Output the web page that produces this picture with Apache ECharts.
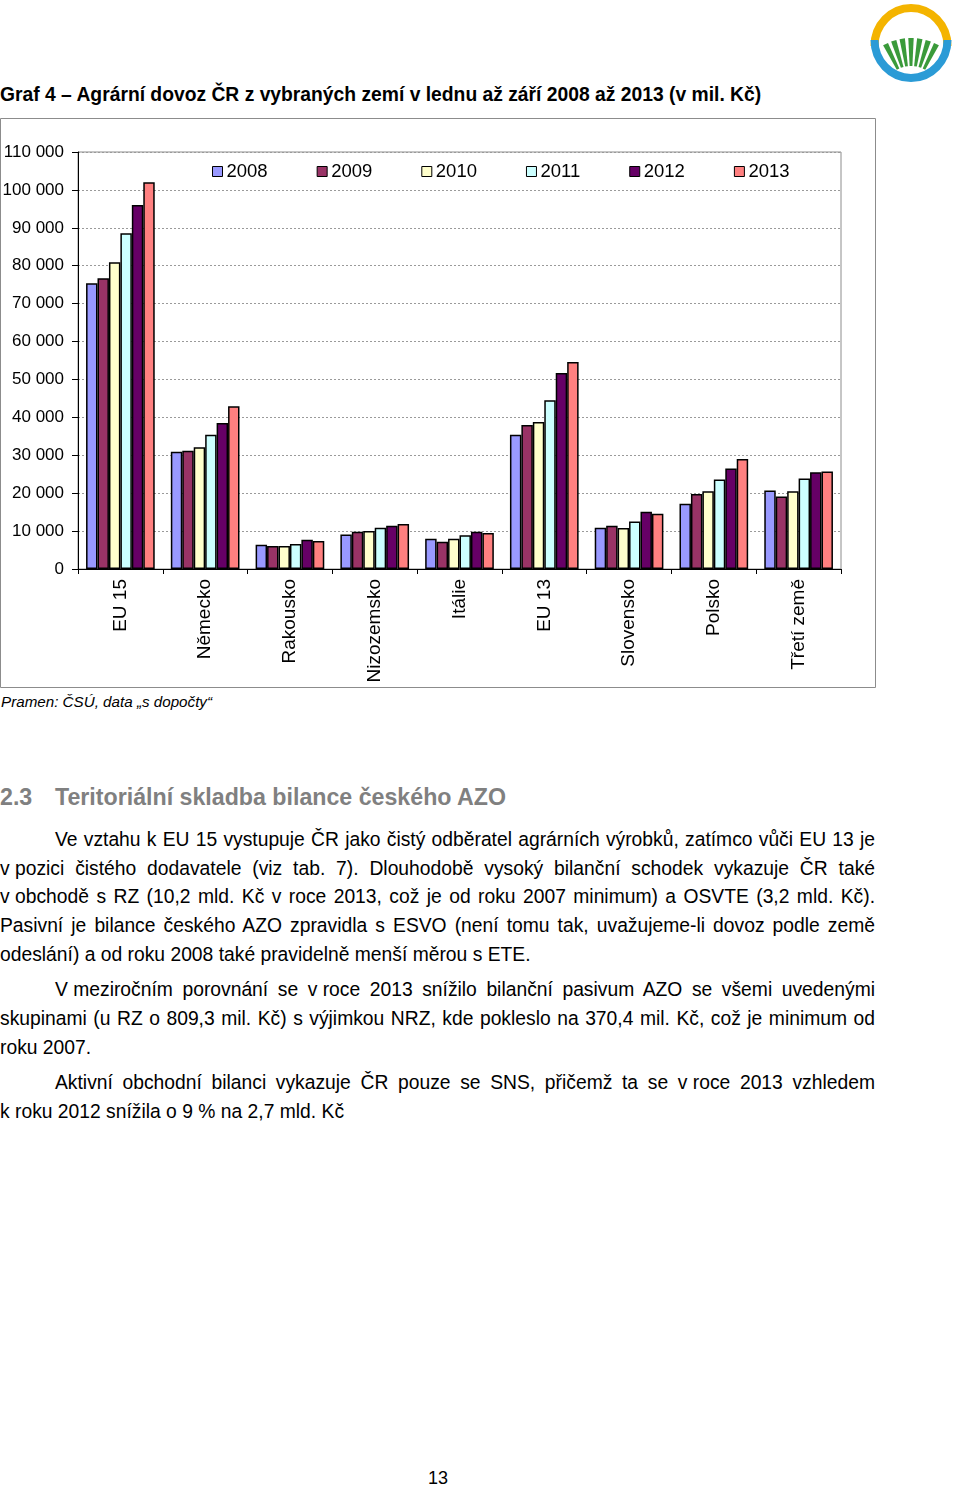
<!DOCTYPE html>
<html>
<head>
<meta charset="utf-8">
<script src="https://cdn.jsdelivr.net/npm/echarts@6/dist/echarts.min.js"></script>
<style>
  html, body { margin: 0; padding: 0; background: #fff; }
  #page { position: relative; width: 960px; height: 1486px; overflow: hidden; font-family: "Liberation Sans", Arial, sans-serif; color: #000; }
  .abs { position: absolute; white-space: nowrap; }
  #title { left: 0; top: 83px; font-size: 19.3px; font-weight: bold; line-height: 24px; }
  #chart { position: absolute; left: 0; top: 118px; width: 876px; height: 571px; }
  #source { left: 1px; top: 693px; font-size: 15.2px; font-style: italic; line-height: 18px; }
  .head { top: 783px; font-size: 23.2px; font-weight: bold; color: #808080; line-height: 28px; }
  .line { position: absolute; font-size: 19.3px; line-height: 24px; white-space: nowrap; }
  .nb { word-spacing: 0; }
  #pagenum { left: 428px; top: 1468px; font-size: 18px; line-height: 20px; }
</style>
</head>
<body>
<div id="page">
  <svg class="abs" style="left:868px;top:0px" width="92" height="92" viewBox="868 0 92 92">
    <path d="M 874.5 46 A 36.5 38 0 0 1 947.5 46" fill="none" stroke="#f4b400" stroke-width="8"/>
    <path d="M 874.5 40 A 36.5 38 0 0 0 947.5 40" fill="none" stroke="#2b9bd6" stroke-width="8"/>
    <g id="stripes" fill="#3a9a3a"></g>
  </svg>
  <div id="title" class="abs">Graf 4 – Agrární dovoz ČR z vybraných zemí v lednu až září 2008 až 2013 (v mil. Kč)</div>
  <div id="chart"></div>
  <div id="source" class="abs">Pramen: ČSÚ, data „s dopočty“</div>
  <div class="abs head" style="left:0">2.3</div>
  <div class="abs head" style="left:55px">Teritoriální skladba bilance českého AZO</div>
  <div id="text"></div>
  <div id="pagenum" class="abs">13</div>
</div>
<script>
// ---- chart data ----
const categories = ['EU 15', 'Německo', 'Rakousko', 'Nizozemsko', 'Itálie', 'EU 13', 'Slovensko', 'Polsko', 'Třetí země'];
const years = ['2008', '2009', '2010', '2011', '2012', '2013'];
const v2008 = [75400, 30900, 6400, 9100, 8000, 35400, 10900, 17200, 20700];
const v2009 = [76700, 31200, 6100, 9800, 7200, 38000, 11400, 19800, 19100];
const v2010 = [80900, 32100, 6100, 10000, 8000, 38800, 10800, 20500, 20500];
const v2011 = [88600, 35400, 6600, 10900, 8900, 44500, 12500, 23600, 23900];
const v2012 = [96000, 38500, 7700, 11400, 9800, 51700, 15100, 26500, 25500];
const v2013 = [102000, 42900, 7400, 11900, 9500, 54600, 14600, 29000, 25700];
const yMin = 0, yMax = 110000, yStep = 10000;

const seriesValues = [v2008, v2009, v2010, v2011, v2012, v2013];
const colors = ['#9999ff', '#993366', '#ffffcc', '#ccffff', '#660066', '#ff8080'];
const FONT = '"Liberation Sans", Arial, sans-serif';

const chart = echarts.init(document.getElementById('chart'), null, { renderer: 'canvas' });
chart.setOption({
  animation: false,
  color: colors,
  graphic: [{
    type: 'rect', shape: { x: 0.5, y: 0.5, width: 875, height: 569 },
    style: { fill: 'none', stroke: '#8c8c8c', lineWidth: 1 }, silent: true, z: -1
  }],
  legend: {
    left: 212, top: 44, padding: 0, itemWidth: 10, itemHeight: 10, itemGap: 49,
    icon: 'rect',
    itemStyle: { borderColor: '#000', borderWidth: 1 },
    textStyle: { fontFamily: FONT, fontSize: 18.5, color: '#000', padding: [0, 0, 0, -1] },
    data: years
  },
  grid: { left: 78, right: 35, top: 34, bottom: 120, outerBoundsMode: 'none', show: true, borderColor: '#8c8c8c', borderWidth: 1, backgroundColor: '#fff' },
  xAxis: {
    type: 'category', data: categories,
    axisLine: { lineStyle: { color: '#000', width: 1 } },
    axisTick: { show: true, length: 5, alignWithLabel: false, lineStyle: { color: '#000' } },
    axisLabel: { rotate: 90, margin: 10, fontFamily: FONT, fontSize: 19, color: '#000', interval: 0 }
  },
  yAxis: {
    type: 'value', min: yMin, max: yMax, interval: yStep,
    axisLine: { show: true, lineStyle: { color: '#000', width: 1 } },
    axisTick: { show: true, length: 6, lineStyle: { color: '#000' } },
    axisLabel: {
      margin: 14, fontFamily: FONT, fontSize: 17, color: '#000',
      formatter: v => String(v).replace(/\B(?=(\d{3})+(?!\d))/g, ' ')
    },
    splitLine: { show: true, lineStyle: { color: '#9a9a9a', type: [2, 2], width: 1 } }
  },
  series: years.map((y, i) => ({
    name: y, type: 'bar', data: seriesValues[i],
    barGap: '0%', barCategoryGap: '19%',
    itemStyle: { color: colors[i], borderColor: '#000', borderWidth: 1.5 }
  }))
});

// ---- logo stripes ----
(function () {
  const g = document.getElementById('stripes');
  const fx = 911, fy = 95, r1 = 57, r2 = 29;
  const n = 7, a0 = -31, a1 = 31, gapFrac = 0.38;
  const step = (a1 - a0) / n;
  let html = '';
  for (let i = 0; i < n; i++) {
    const s = a0 + i * step + step * gapFrac / 2, e = a0 + (i + 1) * step - step * gapFrac / 2;
    const pt = (a, r) => [fx + r * Math.sin(a * Math.PI / 180), fy - r * Math.cos(a * Math.PI / 180)];
    const p = [pt(s, r1), pt(e, r1), pt(e, r2), pt(s, r2)];
    html += '<polygon points="' + p.map(q => q[0].toFixed(1) + ',' + q[1].toFixed(1)).join(' ') + '"/>';
  }
  g.innerHTML = html;
})();

// ---- body text lines ----
const textLines = [
  { t: 'Ve vztahu k EU 15 vystupuje ČR jako čistý odběratel agrárních výrobků, zatímco vůči EU 13 je', x: 55, y: 840, j: true },
  { t: 'v\u00a0pozici čistého dodavatele (viz tab. 7). Dlouhodobě vysoký bilanční schodek vykazuje ČR také', x: 0, y: 869, j: true },
  { t: 'v\u00a0obchodě s RZ (10,2 mld. Kč v roce 2013, což je od roku 2007 minimum) a OSVTE (3,2 mld. Kč).', x: 0, y: 897, j: true },
  { t: 'Pasivní je bilance českého AZO zpravidla s ESVO (není tomu tak, uvažujeme-li dovoz podle země', x: 0, y: 926, j: true },
  { t: 'odeslání) a od roku 2008 také pravidelně menší měrou s ETE.', x: 0, y: 955, j: false },
  { t: 'V\u00a0meziročním porovnání se v\u00a0roce 2013 snížilo bilanční pasivum AZO se všemi uvedenými', x: 55, y: 990, j: true },
  { t: 'skupinami (u RZ o 809,3 mil. Kč) s výjimkou NRZ, kde pokleslo na 370,4 mil. Kč, což je minimum od', x: 0, y: 1019, j: true },
  { t: 'roku 2007.', x: 0, y: 1048, j: false },
  { t: 'Aktivní obchodní bilanci vykazuje ČR pouze se SNS, přičemž ta se v\u00a0roce 2013 vzhledem', x: 55, y: 1083, j: true },
  { t: 'k roku 2012 snížila o 9 % na 2,7 mld. Kč', x: 0, y: 1112, j: false }
];
const RIGHT = 875;
const holder = document.getElementById('text');
textLines.forEach(L => {
  const d = document.createElement('div');
  d.className = 'line';
  d.style.left = L.x + 'px';
  d.style.top = (L.y - 12) + 'px';
  // non-breaking spaces are kept narrow (word-spacing reset on their span)
  L.t.split('\u00a0').forEach((chunk, k) => {
    if (k > 0) {
      const nb = document.createElement('span');
      nb.className = 'nb';
      nb.textContent = '\u00a0';
      d.appendChild(nb);
    }
    d.appendChild(document.createTextNode(chunk));
  });
  holder.appendChild(d);
  if (L.j) {
    const natural = d.getBoundingClientRect().width;
    const spaces = (L.t.match(/ /g) || []).length;
    if (spaces > 0) d.style.wordSpacing = ((RIGHT - L.x - natural) / spaces) + 'px';
  }
});
</script>
</body>
</html>
